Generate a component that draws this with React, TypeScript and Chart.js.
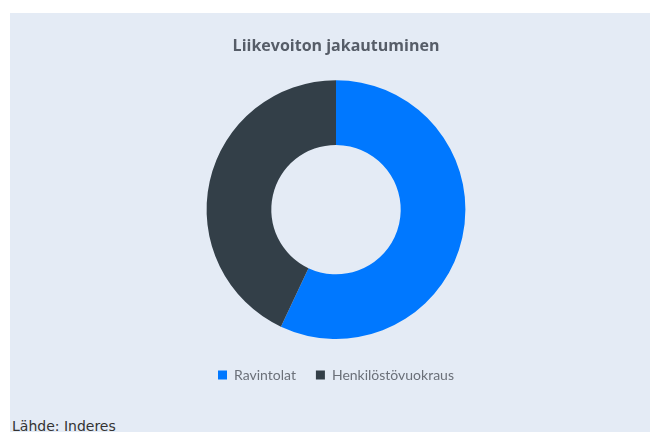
import React, { useEffect, useRef } from "react";
import { Chart, registerables } from "chart.js";

Chart.register(...registerables);

const titleText = "Liikevoiton jakautuminen";
const categories = ["Ravintolat", "Henkilöstövuokraus"];
const shares = [57, 43];
const colors = ["#0078ff", "#333f48"];
const sourceText = "Lähde: Inderes";

export default function App() {
  const ref = useRef<HTMLCanvasElement | null>(null);

  useEffect(() => {
    if (!ref.current) return;
    const chart = new Chart(ref.current, {
      type: "doughnut",
      data: {
        labels: categories,
        datasets: [
          {
            data: shares,
            backgroundColor: colors,
            borderWidth: 0,
          },
        ],
      },
      options: {
        responsive: false,
        animation: false,
        cutout: "50%",
        layout: { padding: 0 },
        plugins: {
          title: {
            display: true,
            text: titleText,
            color: "#565d68",
            font: { family: "'Open Sans'", size: 16, weight: "bold" },
            padding: { top: 24, bottom: 24 },
          },
          legend: {
            position: "bottom",
            title: {
              display: true,
              text: " ",
              font: { size: 7.5 },
              padding: 0,
            },
            labels: {
              color: "#6b7079",
              font: { family: "Lato", size: 14 },
              boxWidth: 9,
              boxHeight: 9,
              padding: 20,
            },
          },
          tooltip: { enabled: false },
        },
      },
    });
    return () => chart.destroy();
  }, []);

  return (
    <div
      style={{
        marginTop: 5,
        marginLeft: 2,
        width: 640,
        height: 430,
        background: "#e4ebf5",
        position: "relative",
        overflow: "hidden",
      }}
    >
      <canvas
        ref={ref}
        width={628}
        height={379}
        style={{ display: "block", marginLeft: 12, width: 628, height: 379 }}
      />
      <div
        style={{
          position: "absolute",
          left: 2,
          top: 405,
          fontFamily: "'DejaVu Sans', sans-serif",
          fontSize: 14,
          color: "#333",
          whiteSpace: "nowrap",
        }}
      >
        {sourceText}
      </div>
    </div>
  );
}
